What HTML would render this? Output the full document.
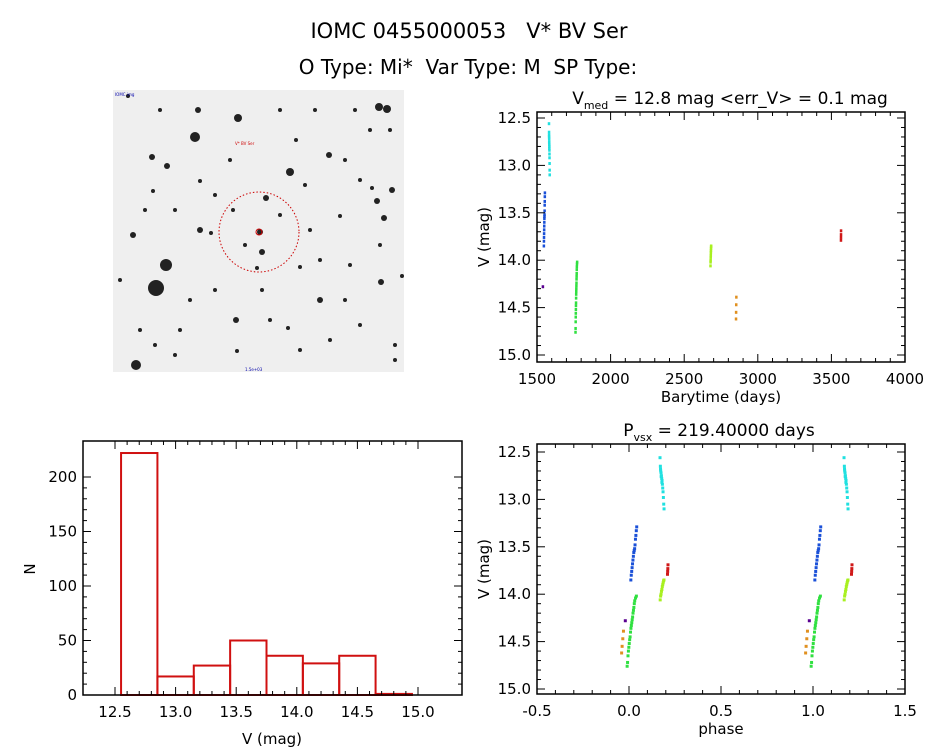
<!DOCTYPE html>
<html><head><meta charset="utf-8"><style>
body{margin:0;background:#fff}
svg{display:block;font-family:"DejaVu Sans","Liberation Sans",sans-serif}
text{white-space:pre}
</style></head><body>
<svg id="c" width="944" height="747" viewBox="0 0 944 747">
<text x="469" y="38" font-size="21" text-anchor="middle" xml:space="preserve">IOMC 0455000053   V* BV Ser</text>
<text x="468" y="74" font-size="20" text-anchor="middle" xml:space="preserve">O Type: Mi*  Var Type: M  SP Type:</text>
<g>
<rect x="113" y="90" width="291" height="282" fill="#efefef"/>
<g fill="#bdbdbd" id="faint"></g>
<g fill="#222" id="stars"></g>
<circle cx="259" cy="232" r="40" fill="none" stroke="#c00" stroke-width="1" stroke-dasharray="1.5,2"/>
<circle cx="259" cy="232" r="3" fill="none" stroke="#c00" stroke-width="1"/>
<text x="115" y="96" font-size="4" fill="#00a">IOMC img</text>
<text x="235" y="145" font-size="4" fill="#c00">V* BV Ser</text>
<text x="245" y="371" font-size="4" fill="#00a">1.5e+03</text>
</g>
</svg>
<script>
// ---- data ----
const histBinStarts=[12.55,12.85,13.15,13.45,13.75,14.05,14.35,14.65];
const histCounts=[222,17,27,50,36,29,36,1];
const histXTicks=[12.5,13.0,13.5,14.0,14.5,15.0];
const histYTicks=[0,50,100,150,200];
const lcXTicks=[1500,2000,2500,3000,3500,4000];
const magTicks=[12.5,13.0,13.5,14.0,14.5,15.0];
const phXTicks=[-0.5,0.0,0.5,1.0,1.5];
const period=219.4, epoch=1542.8;
const blueT=[1545,1545.5,1546,1546.5,1547,1547.5,1548,1548.5,1549,1549.5,1550,1550.5,1551,1551.5,1552];
const blueM=[13.85,13.80,13.76,13.72,13.68,13.64,13.60,13.56,13.54,13.52,13.48,13.42,13.38,13.33,13.29];
const cyanT=[1579.8,1580.2,1580.6,1581,1581.4,1581.8,1582.2,1582.6,1583,1583.4,1583.8,1584.2,1584.6,1580.4,1581.2,1582];
const cyanM=[12.56,12.65,12.70,12.72,12.75,12.78,12.80,12.84,12.88,12.92,12.98,13.05,13.10,12.68,12.76,12.82];
const greenT=[1760,1760.5,1761,1761.5,1762,1762.5,1763,1763.5,1764,1764.5,1765,1765.5,1766,1766.5,1767,1767.5,1768,1768.5,1769,1770,1771];
const greenM=[14.76,14.72,14.65,14.60,14.56,14.52,14.48,14.45,14.40,14.36,14.33,14.30,14.27,14.24,14.20,14.17,14.14,14.10,14.07,14.04,14.02];
const limeT=[2677,2677.5,2678,2678.5,2679,2679.5,2680,2680.5,2681,2681.5];
const limeM=[14.06,14.02,14.00,13.97,13.95,13.92,13.90,13.88,13.86,13.85];
const orangeT=[2850.4,2851,2851.8,2852.6];
const orangeM=[14.62,14.55,14.47,14.39];
const redT=[3563.3,3563.5,3563.7,3563.9];
const redM=[13.79,13.76,13.73,13.69];
const purpleT=[1538.4];
const purpleM=[14.28];
const seriesList=[[purpleT,purpleM,'#5a0090','purple'],[blueT,blueM,'#1a50d8','blue'],[cyanT,cyanM,'#20e0e0','cyan'],[greenT,greenM,'#30e040','green'],[limeT,limeM,'#a8f020','lime'],[orangeT,orangeM,'#e09020','orange'],[redT,redM,'#d01818','red']];

const svg=document.getElementById('c');
const NS='http://www.w3.org/2000/svg';
function mk(tag,a,parent){const e=document.createElementNS(NS,tag);for(const k in a)e.setAttribute(k,a[k]);(parent||svg).appendChild(e);return e;}
function lin(d0,d1,r0,r1){return v=>r0+(v-d0)/(d1-d0)*(r1-r0);}

// stars decorative
const st=document.getElementById('stars');
[[166,265,6],[156,288,8],[195,137,5],[238,118,4],[329,155,3],[290,172,4],[266,198,3],[260,232,3],[262,252,3],[257,268,2],[200,230,3],[133,235,3],[152,157,3],[167,166,3],[320,300,3],[381,282,3],[384,218,3],[377,201,3],[392,190,3],[379,107,4],[387,109,4],[136,365,5],[236,320,3],[153,191,2],[198,110,3],[296,140,2],[402,276,2],[300,267,2],[262,290,2],[211,233,2],[200,181,2],[345,300,2],[340,216,2],[288,328,2],[237,351,2],[310,230,2],[372,188,2],[370,130,2],[180,330,2],[305,185,2],[233,210,2],[128,96,2],[160,110,2],[315,110,2],[355,110,2],[345,160,2],[360,180,2],[390,130,2],[230,160,2],[280,110,2],[120,280,2],[140,330,2],[190,300,2],[215,290,2],[270,320,2],[300,350,2],[330,340,2],[360,325,2],[395,345,2],[280,215,2],[245,245,2],[320,260,2],[350,265,2],[175,210,2],[145,210,2],[215,195,2],[380,245,2],[395,360,2],[175,355,2],[155,345,2]].forEach(s=>{const c=mk('circle',{cx:s[0],cy:s[1],r:s[2]},st);});

function frame(x0,y0,x1,y1,name){const r=mk('rect',{x:x0,y:y0,width:x1-x0,height:y1-y0,fill:'none',stroke:'#000','stroke-width':1.5});}
function xTicks(g,ticks,sx,y0,y1,fmt,minor){const g2=mk('g',{});
 ticks.forEach(t=>{const x=sx(t);mk('line',{x1:x,x2:x,y1:y1,y2:y1-8,stroke:'#000'},g2);mk('line',{x1:x,x2:x,y1:y0,y2:y0+8,stroke:'#000'},g2);
 const tx=mk('text',{x:x,y:y1+22,'font-size':15,'text-anchor':'middle'},g2);tx.textContent=fmt(t);});
 for(let i=0;i<ticks.length-1;i++)for(let k=1;k<minor;k++){const v=ticks[i]+(ticks[i+1]-ticks[i])*k/minor;const x=sx(v);mk('line',{x1:x,x2:x,y1:y1,y2:y1-4,stroke:'#000'},g2);mk('line',{x1:x,x2:x,y1:y0,y2:y0+4,stroke:'#000'},g2);}}
function yTicks(g,ticks,sy,x0,x1,fmt,minor){const g2=mk('g',{});
 ticks.forEach(t=>{const y=sy(t);mk('line',{x1:x0,x2:x0+8,y1:y,y2:y,stroke:'#000'},g2);mk('line',{x1:x1,x2:x1-8,y1:y,y2:y,stroke:'#000'},g2);
 const tx=mk('text',{x:x0-6,y:y+5,'font-size':15,'text-anchor':'end'},g2);tx.textContent=fmt(t);});
 for(let i=0;i<ticks.length-1;i++)for(let k=1;k<minor;k++){const v=ticks[i]+(ticks[i+1]-ticks[i])*k/minor;const y=sy(v);mk('line',{x1:x0,x2:x0+4,y1:y,y2:y,stroke:'#000'},g2);mk('line',{x1:x1,x2:x1-4,y1:y,y2:y,stroke:'#000'},g2);}}
function label(t,x,y,name,rot){const e=mk('text',{x:x,y:y,'font-size':15,'text-anchor':'middle'});if(rot)e.setAttribute('transform',`rotate(-90 ${x} ${y})`);e.textContent=t;return e;}
const f1=v=>v.toFixed(1);

// ---- light curve ----
{const X0=537,X1=905,Y0=112,Y1=362;const sx=lin(1500,4000,X0,X1),sy=lin(12.5,15.0,118,355);
 const tt=mk('text',{x:730,y:104,'font-size':17,'text-anchor':'middle'});tt.innerHTML='V<tspan font-size="11" dy="5">med</tspan><tspan dy="-5"> = 12.8 mag &lt;err_V&gt; = 0.1 mag</tspan>';
 seriesList.forEach(s=>{const g=mk('g',{fill:s[2]});
  s[0].forEach((t,i)=>{const r=mk('rect',{x:sx(t)-1,y:sy(s[1][i])-1.5,width:2.5,height:3},g);});});
 frame(X0,Y0,X1,Y1,'lightcurve-frame');
 xTicks('lc-x-axis',lcXTicks,sx,Y0,Y1,v=>String(v),5);
 yTicks('lc-y-axis',magTicks,sy,X0,X1,f1,5);
 label('Barytime (days)',721,402,'lc-x-title');label('V (mag)',489,237,'lc-y-title',true);}

// ---- phase plot ----
{const X0=537,X1=905,Y0=444,Y1=694;const sx=lin(-0.5,1.5,X0,X1),sy=lin(12.5,15.0,452,689);
 const tt=mk('text',{x:719,y:436,'font-size':17,'text-anchor':'middle'});tt.innerHTML='P<tspan font-size="11" dy="5">vsx</tspan><tspan dy="-5"> = 219.40000 days</tspan>';
 seriesList.forEach(s=>{const g=mk('g',{fill:s[2]});
  s[0].forEach((t,i)=>{let p=((t-epoch)/period)%1;if(p<0)p+=1;if(p>0.9)p-=1;[p,p+1].forEach(pp=>{const r=mk('rect',{x:sx(pp)-1.5,y:sy(s[1][i])-1.5,width:3,height:3},g);});});});
 frame(X0,Y0,X1,Y1,'phase-frame');
 xTicks('phase-x-axis',phXTicks,sx,Y0,Y1,f1,5);
 yTicks('phase-y-axis',magTicks,sy,X0,X1,f1,5);
 label('phase',721,734,'phase-x-title');label('V (mag)',489,569,'phase-y-title',true);}

// ---- histogram ----
{const X0=83,X1=462,Y0=441,Y1=695;const sx=lin(12.5,15.0,115,418),sy=lin(0,200,695,477);const w=0.3;
 const g=mk('g',{fill:'none',stroke:'#d01010','stroke-width':2});
 histBinStarts.forEach((b,i)=>{const r=mk('rect',{x:sx(b),y:sy(histCounts[i]),width:sx(b+w)-sx(b),height:sy(0)-sy(histCounts[i])},g);});
 frame(X0,Y0,X1,Y1,'histogram-frame');
 xTicks('hist-x-axis',histXTicks,sx,Y0,Y1,f1,5);
 yTicks('hist-y-axis',histYTicks,sy,X0,X1,v=>String(v),5);
 label('V (mag)',272,744,'hist-x-title');label('N',35,569,'hist-y-title',true);}
</script>
</body></html>
